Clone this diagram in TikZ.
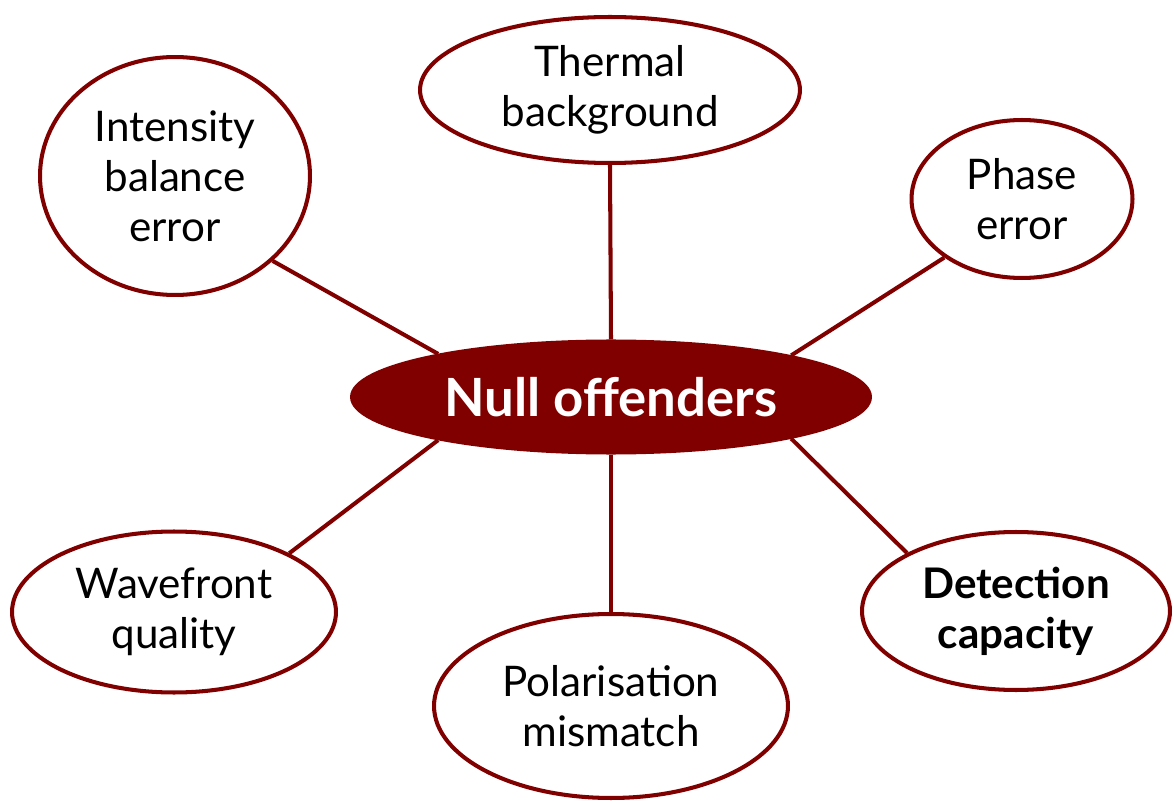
\documentclass[tikz,border=0pt]{standalone}
\usepackage{fontspec}
\setmainfont{Lato}
\usepackage{tikz}
\usetikzlibrary{shapes.geometric}
\definecolor{nullred}{HTML}{800000}
\tikzstyle{topic} = [ellipse, draw=nullred, line width=2.3pt, fill=white, text=black,
                     align=center, inner sep=0pt, font=\fontsize{24}{28.5}\selectfont]
\tikzstyle{hub}   = [ellipse, draw=nullred, fill=nullred, line width=2.3pt, text=white,
                     minimum width=10.36cm, minimum height=2.22cm,
                     font=\fontsize{30}{34}\selectfont\bfseries]
\tikzstyle{link}  = [draw=nullred, line width=2.3pt]

\begin{document}
\begin{tikzpicture}[x=0.02cm,y=-0.02cm]
	\useasboundingbox (0,0) rectangle (1174,804);

	\node[hub] (null) at (611,397) {Null offenders};

	% outer topics
	\node[topic,minimum width=5.40cm,minimum height=4.76cm] (intensity) at (175,176) {Intensity\\balance\\error};
	\node[topic,minimum width=7.60cm,minimum height=2.92cm] (thermal) at (610,90) {Thermal\\background};
	\node[topic,minimum width=4.42cm,minimum height=3.16cm] (phase) at (1022,199) {Phase\\error};
	\node[topic,minimum width=6.48cm,minimum height=3.22cm] (wavefront) at (174,612) {Wavefront\\quality};
	\node[topic,minimum width=7.08cm,minimum height=3.68cm] (polar) at (611,706) {Polarisation\\mismatch};
	\node[topic,minimum width=6.16cm,minimum height=3.16cm,font=\fontsize{24}{28.5}\selectfont\bfseries] (detection) at (1016,611) {Detection\\capacity};

	% spokes
	\foreach \n/\a/\b in {
			intensity/166.3/-41.9,
			thermal/90/-90,
			phase/13.4/-143.2,
			wavefront/-166.8/27,
			polar/-90/90,
			detection/-13.4/152.8
		}
	\draw[link] (null.\a) -- (\n.\b);
\end{tikzpicture}
\end{document}
